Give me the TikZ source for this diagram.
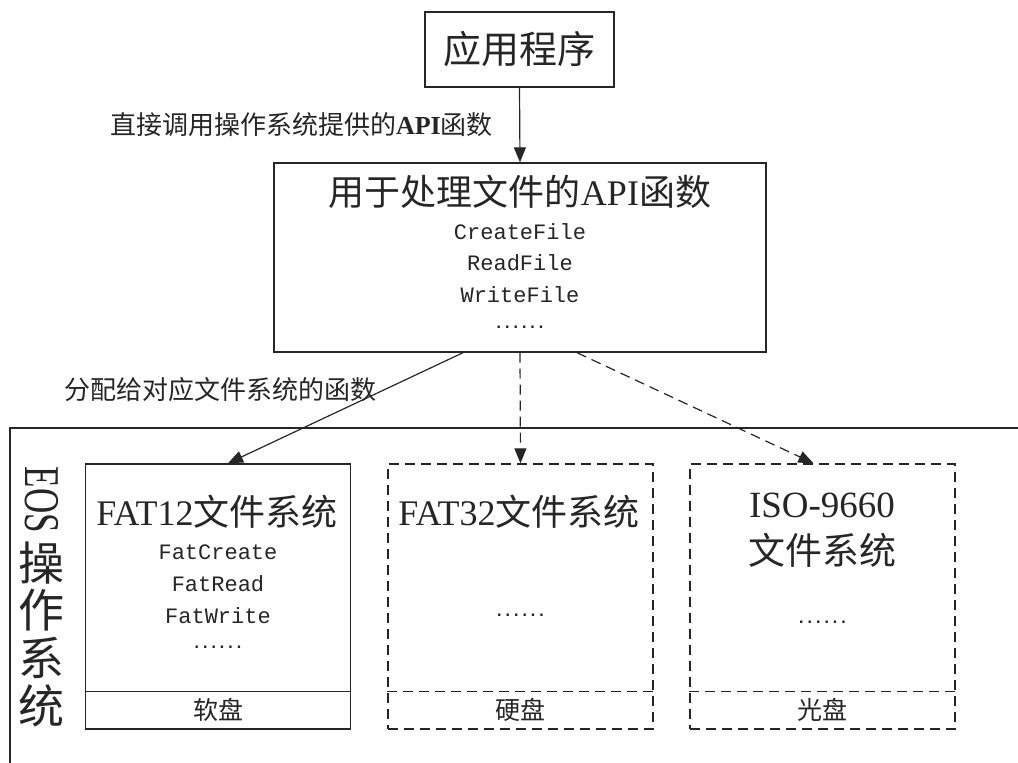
\documentclass[tikz,border=0pt]{standalone}
\usepackage{fontspec}
\usepackage{tikz}
\usetikzlibrary{arrows.meta,positioning}
\setmainfont{Liberation Serif}
\setmonofont{Liberation Mono}
\newfontfamily\cjk{Noto Sans CJK SC}
\newfontfamily\dotfont{DejaVu Sans Mono}
\newcommand{\fsz}[1]{\fontsize{#1}{#1}\selectfont}
\definecolor{InkGray}{HTML}{262626}

\begin{document}
\begin{tikzpicture}[x=1pt,y=-1pt,
  box/.style={draw=InkGray,line width=1.4pt,inner sep=0pt},
  dbox/.style={box,dash pattern=on 10pt off 6pt},
  arr/.style={draw=InkGray,line width=1.2pt,-{Triangle[length=15pt,width=12pt]}},
  big/.style={text=InkGray,inner sep=0pt,font=\fsz{36}},
  code/.style={text=InkGray,inner sep=0pt,font=\ttfamily\fsz{22}},
  dots/.style={text=InkGray,inner sep=0pt,anchor=base,font=\dotfont\bfseries\fsz{14}},
  small/.style={text=InkGray,inner sep=0pt,font=\fsz{26}},
  disk/.style={text=InkGray,inner sep=0pt,font=\cjk\fsz{25}}]
  \useasboundingbox (0,0) rectangle (1018,763);
  % application and API layer
  \node[box,big,font=\cjk\fsz{38},minimum width=189pt,minimum height=75pt] (app) at (519.5,49.5) {应用程序};
  \node[box,minimum width=492pt,minimum height=189pt] (api) at (520,257.5) {};
  \node[big] (api-title) at (520,192) {{\cjk 用于处理文件的}API{\cjk 函数}};
  \foreach \name/\y in {CreateFile/232,ReadFile/263,WriteFile/295}
    \node[code] (api-\name) at (520,\y) {\name};
  \node[dots] (api-dots) at (520,328) {......};
  \node[small,anchor=east] (call-lbl) at (493,125) {{\cjk 直接调用操作系统提供的}\textbf{API}{\cjk 函数}};
  \node[small] (dist-lbl) at (220,390) {{\cjk 分配给对应文件系统的函数}};
  % operating system frame
  \coordinate (os-bl) at (10,763);
  \coordinate (os-tl) at (10,428);
  \coordinate (os-tr) at (1018,428);
  \draw[draw=InkGray,line width=1.4pt] (os-bl) -- (os-tl) -- (os-tr);
  \node[text=InkGray,inner sep=0pt,font=\fsz{50},rotate=-90] (eos) at (42,500) {\scalebox{0.7}[1]{EOS}};
  \foreach \ch [count=\i] in {操,作,系,统}
    \node[text=InkGray,inner sep=0pt,font=\cjk\fsz{46}] (eos-\i) at (42,{563+47.5*(\i-1)}) {\ch};
  % file systems
  \foreach \id/\x/\sty/\disk in {fat12/218/box/软盘,fat32/520.5/dbox/硬盘,iso/822.5/dbox/光盘}
  {
    \node[\sty,minimum width=265pt,minimum height=265pt] (\id) at (\x,596.5) {};
    \draw[\sty] ([yshift=38pt]\id.south west) -- ([yshift=38pt]\id.south east);
    \node[disk] (\id-disk) at (\x,710) {\disk};
  }
  \node[big] (fat12-title) at (217,512) {FAT12{\cjk 文件系统}};
  \foreach \name/\y in {FatCreate/552,FatRead/584,FatWrite/616}
    \node[code] (fat12-\name) at (218,\y) {\name};
  \node[dots] (fat12-dots) at (218,648) {......};
  \node[big] (fat32-title) at (519,512) {FAT32{\cjk 文件系统}};
  \node[dots] (fat32-dots) at (520.5,616) {......};
  \node[big,font=\fsz{37}] (iso-title) at (822,505) {ISO-9660};
  \node[big,font=\cjk\fsz{37}] (iso-sub) at (822,550) {文件系统};
  \node[dots] (iso-dots) at (822.5,623) {......};
  % calls
  \draw[arr] (app.south) -- (api.north);
  \draw[arr] ([xshift=-57pt]api.south) -- ([xshift=10pt]fat12.north);
  \draw[arr,dash pattern=on 10pt off 6pt] (api.south) -- (fat32.north);
  \draw[arr,dash pattern=on 10pt off 6pt] ([xshift=57pt]api.south) -- ([xshift=-9pt]iso.north);
\end{tikzpicture}
\end{document}
